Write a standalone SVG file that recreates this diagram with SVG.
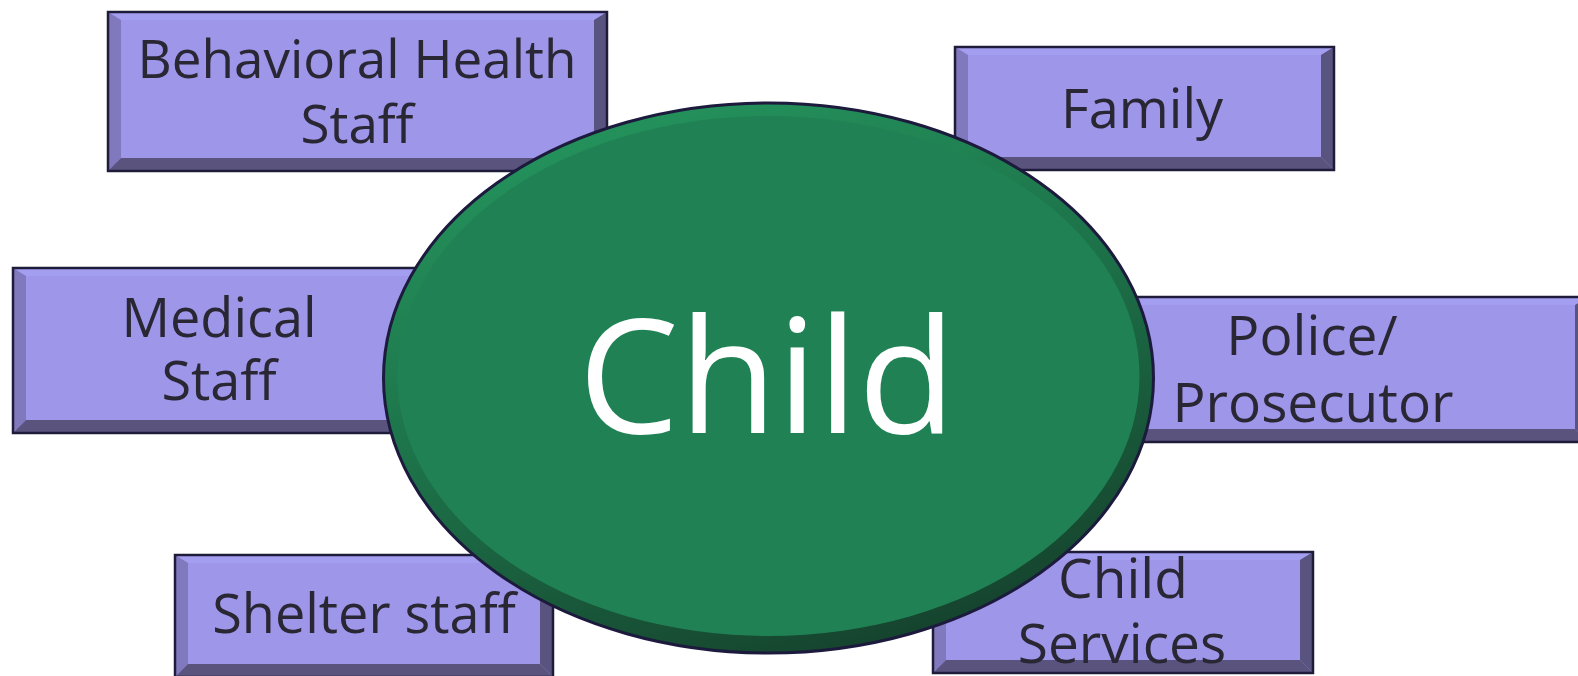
<svg xmlns="http://www.w3.org/2000/svg" width="1578" height="676" viewBox="0 0 1578 676">
  <style>
    .face { fill: #9e96e9; }
    .bt { fill: #a49ef1; }
    .bl { fill: #8079bd; }
    .br { fill: #59537f; }
    .bb { fill: #59537e; }
    .edge { fill: none; stroke: #1f1c3b; stroke-width: 2.5; }
    .lbl { font-family: "Open Sans", "Noto Sans", sans-serif; font-size: 54px; fill: #2a2735; text-anchor: middle; }
    .hub { font-family: "Open Sans", "Noto Sans", sans-serif; font-size: 160px; fill: #ffffff; text-anchor: middle; }
  </style>
  <defs>
    <linearGradient id="rim" x1="0.3" y1="0" x2="0.75" y2="1">
      <stop offset="0" stop-color="#24935c"/>
      <stop offset="0.5" stop-color="#1c6e47"/>
      <stop offset="1" stop-color="#153f2b"/>
    </linearGradient>
  </defs>
  <rect width="1578" height="676" fill="#ffffff"/>

  <!-- connectors: none drawn -->
  <g id="connectors"/>

  <g id="node-behavioral">
    <rect class="face" x="108" y="12" width="499" height="159"/>
    <polygon class="bt" points="108,12 607,12 594,20 121,20"/>
    <polygon class="bl" points="108,12 121,20 121,158 108,171"/>
    <polygon class="br" points="607,12 607,171 594,158 594,20"/>
    <polygon class="bb" points="108,171 121,158 594,158 607,171"/>
    <rect class="edge" x="108" y="12" width="499" height="159"/>
    <text class="lbl" x="357" y="78" style="font-size:53px">Behavioral Health</text>
    <text class="lbl" x="357" y="143" style="font-size:53px">Staff</text>
  </g>

  <g id="node-family">
    <rect class="face" x="955" y="47" width="379" height="123"/>
    <polygon class="bt" points="955,47 1334,47 1321,55 968,55"/>
    <polygon class="bl" points="955,47 968,55 968,157 955,170"/>
    <polygon class="br" points="1334,47 1334,170 1321,157 1321,55"/>
    <polygon class="bb" points="955,170 968,157 1321,157 1334,170"/>
    <rect class="edge" x="955" y="47" width="379" height="123"/>
    <text class="lbl" x="1142" y="128">Family</text>
  </g>

  <g id="node-medical">
    <rect class="face" x="13" y="268" width="413" height="165"/>
    <polygon class="bt" points="13,268 426,268 413,276 26,276"/>
    <polygon class="bl" points="13,268 26,276 26,420 13,433"/>
    <polygon class="br" points="426,268 426,433 413,420 413,276"/>
    <polygon class="bb" points="13,433 26,420 413,420 426,433"/>
    <rect class="edge" x="13" y="268" width="413" height="165"/>
    <text class="lbl" x="219" y="337">Medical</text>
    <text class="lbl" x="219" y="400">Staff</text>
  </g>

  <g id="node-police">
    <rect class="face" x="1036" y="297" width="552" height="145"/>
    <polygon class="bt" points="1036,297 1588,297 1575,305 1049,305"/>
    <polygon class="bl" points="1036,297 1049,305 1049,429 1036,442"/>
    <polygon class="br" points="1588,297 1588,442 1575,429 1575,305"/>
    <polygon class="bb" points="1036,442 1049,429 1575,429 1588,442"/>
    <rect class="edge" x="1036" y="297" width="552" height="145"/>
    <text class="lbl" x="1312" y="355" style="font-size:55px">Police/</text>
    <text class="lbl" x="1313" y="422" style="font-size:55px">Prosecutor</text>
  </g>

  <g id="node-shelter">
    <rect class="face" x="175" y="555" width="378" height="122"/>
    <polygon class="bt" points="175,555 553,555 540,563 188,563"/>
    <polygon class="bl" points="175,555 188,563 188,664 175,677"/>
    <polygon class="br" points="553,555 553,677 540,664 540,563"/>
    <polygon class="bb" points="175,677 188,664 540,664 553,677"/>
    <rect class="edge" x="175" y="555" width="378" height="122"/>
    <text class="lbl" x="364" y="633">Shelter staff</text>
  </g>

  <g id="node-child-services">
    <rect class="face" x="933" y="552" width="380" height="121"/>
    <polygon class="bt" points="933,552 1313,552 1300,560 946,560"/>
    <polygon class="bl" points="933,552 946,560 946,660 933,673"/>
    <polygon class="br" points="1313,552 1313,673 1300,660 1300,560"/>
    <polygon class="bb" points="933,673 946,660 1300,660 1313,673"/>
    <rect class="edge" x="933" y="552" width="380" height="121"/>
    <text class="lbl" x="1123" y="598" style="font-size:55px">Child</text>
    <text class="lbl" x="1122" y="663" style="font-size:55px">Services</text>
  </g>

  <g id="node-child">
    <ellipse cx="768.5" cy="378" rx="385" ry="275" fill="url(#rim)" stroke="#1c1a3d" stroke-width="3"/>
    <ellipse cx="768.5" cy="376" rx="371" ry="260" fill="#208254"/>
    <text class="hub" x="767" y="433">Child</text>
  </g>
</svg>
